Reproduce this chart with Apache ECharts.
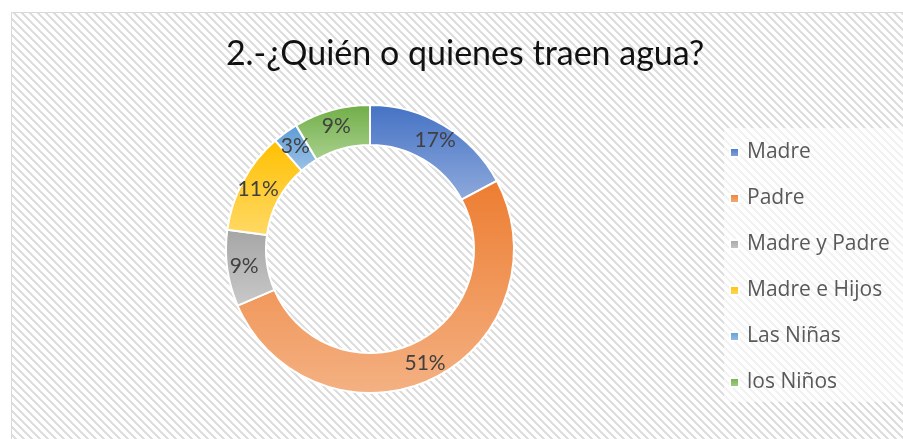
<!DOCTYPE html>
<html>
<head>
<meta charset="utf-8">
<script src="https://cdn.jsdelivr.net/npm/echarts@6/dist/echarts.min.js"></script>
<style>
html,body{margin:0;padding:0;background:#fff;}
#chart{width:903px;height:439px;}
</style>
</head>
<body>
<div id="chart"></div>
<script>
var titleText = '2.-¿Quién o quienes traen agua?';
var categories = ['Madre', 'Padre', 'Madre y Padre', 'Madre e Hijos', 'Las Niñas', 'los Niños'];
var values = [6, 18, 3, 4, 1, 3];
var topColors = ['#4472C4', '#ED7D31', '#A5A5A5', '#FFC000', '#5B9BD5', '#70AD47'];
var bottomColors = ['#8FAADC', '#F4B183', '#C9C9C9', '#FFD966', '#9DC3E6', '#A9D18E'];

function makePattern() {
  var c = document.createElement('canvas');
  c.width = 8; c.height = 8;
  var ctx = c.getContext('2d');
  ctx.fillStyle = '#ffffff';
  ctx.fillRect(0, 0, 8, 8);
  ctx.fillStyle = '#dedede';
  for (var i = 0; i < 8; i++) {
    for (var k = 0; k < 3; k++) {
      ctx.fillRect((i + k) % 8, i, 1, 1);
    }
  }
  return c;
}

var chart = echarts.init(document.getElementById('chart'), null, {renderer: 'canvas'});
var data = categories.map(function (name, i) {
  return {
    name: name,
    value: values[i],
    itemStyle: {
      color: new echarts.graphic.LinearGradient(0, 0, 0, 1, [
        {offset: 0, color: topColors[i]},
        {offset: 1, color: bottomColors[i]}
      ])
    }
  };
});

chart.setOption({
  animation: false,
  graphic: [{
    type: 'rect',
    silent: true,
    z: -10,
    shape: {x: 11.5, y: 12.5, width: 900, height: 440},
    style: {fill: {image: makePattern(), repeat: 'repeat'}, stroke: '#d9d9d9', lineWidth: 1}
  }],
  title: {
    text: titleText,
    left: 460,
    textAlign: 'center',
    top: 32,
    textStyle: {fontFamily: 'Lato', fontSize: 34, fontWeight: 'normal', color: '#111111'}
  },
  legend: {
    orient: 'vertical',
    left: 724,
    top: 128,
    padding: [14, 30, 9, 5],
    backgroundColor: 'rgba(255,255,255,0.6)',
    itemWidth: 9,
    itemHeight: 9,
    itemGap: 25,
    icon: 'rect',
    textStyle: {fontFamily: 'Open Sans', fontSize: 21, color: '#595959', lineHeight: 20, padding: [0, 0, 0, 3]},
    data: categories
  },
  series: [{
    type: 'pie',
    center: [370, 249],
    radius: [104, 144],
    startAngle: 90,
    clockwise: true,
    avoidLabelOverlap: false,
    itemStyle: {borderColor: '#ffffff', borderWidth: 2},
    label: {
      show: true,
      position: 'inside',
      fontFamily: 'Lato',
      fontSize: 21,
      color: '#404040',
      formatter: function (p) { return Math.round(p.percent) + '%'; }
    },
    labelLine: {show: false},
    emphasis: {disabled: true},
    data: data
  }]
});
</script>
</body>
</html>
